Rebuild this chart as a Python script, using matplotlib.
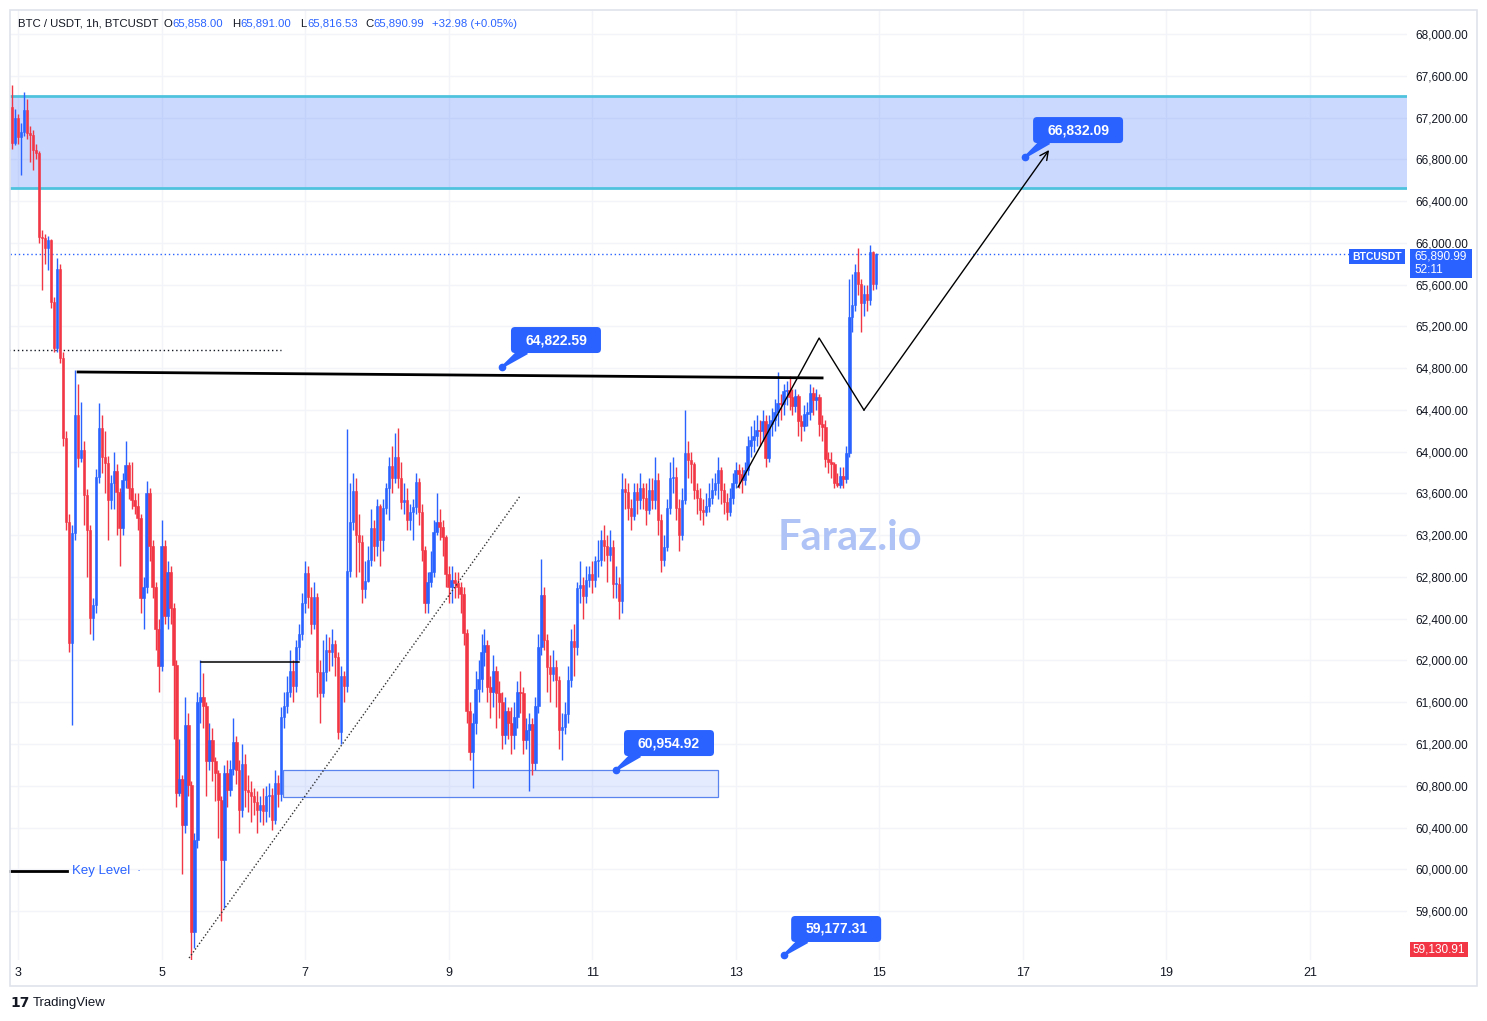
import matplotlib
matplotlib.use("Agg")
import matplotlib.pyplot as plt
import matplotlib.patches as mpatches
from matplotlib.lines import Line2D
from matplotlib.transforms import IdentityTransform
import numpy as np
import pandas as pd

plt.rcParams['font.family'] = ['Liberation Sans', 'DejaVu Sans']

# ---------------- data ----------------
first_candle = "2024-09-02 22:00"
first_open = 67300

closes = [66955, 67200, 67010, 67060, 67270, 67050, 67030, 66890, 66860, 66055,
          66045, 65950, 66025, 65430, 64990, 65750, 64900, 64130, 63330, 62170,
          63220, 64350, 63940, 64015, 63580, 63250, 62410, 62530, 63760, 64230,
          63950, 63890, 63540, 63700, 63810, 63610, 63270, 63730, 63870, 63650,
          63540, 63480, 63360, 62600, 62700, 63600, 63100, 62700, 62300, 61950,
          63100, 62430, 62850, 62500, 61960, 60730, 60860, 60420, 61380, 60810,
          59400, 60280, 61600, 61650, 61560, 61040, 61240, 61040, 60920, 60660,
          60090, 60920, 60760, 60960, 61220, 60950, 60570, 61010, 60760, 60740,
          60700, 60640, 60570, 60620, 60560, 60700, 60710, 60470, 60830, 60720,
          61460, 61560, 61700, 61900, 61760, 62130, 62250, 62550, 62840, 62610,
          62350, 62610, 61890, 61690, 61890, 62100, 62080, 62160, 62030, 61310,
          61850, 61760, 62860, 63330, 63620, 63200, 63130, 62680, 62760, 62960,
          63270, 63100, 63480, 63150, 63460, 63650, 63860, 63750, 63950, 63750,
          63520, 63540, 63350, 63420, 63470, 63710, 63420, 63060, 62550, 62750,
          62850, 63230, 63330, 63280, 63180, 62830, 62700, 62770, 62740, 62700,
          62640, 62260, 61520, 61120, 61400, 61730, 61820, 62080, 62150, 61750,
          61700, 61900, 61690, 61600, 61290, 61520, 61400, 61290, 61460, 61700,
          61690, 61240, 61330, 61390, 61020, 61560, 62130, 62630, 62200, 61940,
          61870, 61940, 61810, 61330, 61360, 61490, 61810, 62190, 62130, 62690,
          62720, 62620, 62770, 62830, 62770, 62950, 62960, 63150, 63100, 63010,
          63090, 62730, 62730, 62570, 63640, 63610, 63460, 63380, 63610, 63540,
          63650, 63560, 63440, 63630, 63540, 63730, 63350, 62960, 63090, 63460,
          63750, 63760, 63460, 63200, 63540, 63990, 63920, 63880, 63630, 63560,
          63440, 63420, 63480, 63560, 63630, 63700, 63820, 63630, 63520, 63420,
          63560, 63700, 63820, 63790, 63730, 63820, 64050, 64110, 64150, 64210,
          64200, 64290, 63940, 64260, 64300, 64380, 64470, 64460, 64580, 64590,
          64520, 64440, 64530, 64290, 64250, 64360, 64380, 64560, 64490, 64520,
          64260, 64240, 63930, 63900, 63880, 63700, 63680, 63770, 63740, 63990,
          65290, 65400, 65720, 65610, 65420, 65510, 65450, 65910, 65610, 65890.99]

highs = [67510, 67280, 67230, 67150, 67445, 67380, 67120, 67080, 66950, 66880,
         66120, 66080, 66070, 66040, 65480, 65850, 65800, 64950, 64200, 63400,
         63300, 64780, 64650, 64480, 64100, 63640, 63300, 62600, 63830, 64470,
         64350, 64200, 63960, 63780, 64000, 63880, 63650, 63800, 64100, 63900,
         63900, 63600, 63600, 63400, 62800, 63720, 63650, 63150, 62750, 62400,
         63350, 63150, 62950, 62900, 62550, 62000, 61250, 60900, 61650, 61500,
         60850, 60350, 61700, 62000, 61880, 61600, 61400, 61350, 61080, 60950,
         60700, 61000, 61050, 61050, 61450, 61280, 61050, 61200, 61100, 60900,
         60850, 60780, 60750, 60700, 60780, 60800, 60830, 60780, 60950, 60900,
         61550, 61700, 61850, 62100, 62000, 62200, 62350, 62650, 62950, 62900,
         62700, 62750, 62650, 62000, 62200, 62250, 62220, 62300, 62200, 62080,
         61950, 61900, 64220, 63700, 63800, 63750, 63400, 63200, 62950, 63100,
         63450, 63350, 63550, 63500, 63550, 63700, 63950, 64050, 64180, 64230,
         63900, 63700, 63650, 63500, 63550, 63800, 63750, 63500, 63100, 62850,
         63050, 63350, 63600, 63450, 63350, 63200, 62900, 62900, 62850, 62850,
         62750, 62700, 62300, 61600, 61500, 61900, 62000, 62250, 62300, 62200,
         61850, 62050, 61950, 61800, 61700, 61650, 61550, 61550, 61600, 61800,
         61900, 61750, 61450, 61500, 61450, 61650, 62250, 62970, 62700, 62250,
         62050, 62100, 62000, 61850, 61500, 61600, 61950, 62300, 62350, 62750,
         62950, 62800, 62900, 62900, 62950, 63000, 63150, 63250, 63300, 63200,
         63250, 63150, 62900, 62800, 63800, 63750, 63700, 63550, 63700, 63700,
         63800, 63700, 63700, 63750, 63750, 63950, 63800, 63400, 63200, 63550,
         63900, 63950, 63850, 63550, 63650, 64400, 64100, 64000, 63900, 63700,
         63650, 63550, 63600, 63700, 63750, 63800, 63950, 63850, 63700, 63600,
         63650, 63800, 63900, 63880, 63850, 63900, 64150, 64250, 64300, 64350,
         64300, 64400, 64350, 64350, 64420, 64500, 64760, 64550, 64650, 64680,
         64720, 64600, 64600, 64550, 64350, 64450, 64480, 64650, 64620, 64600,
         64550, 64350, 64300, 64000, 64000, 63900, 63800, 63850, 63850, 64050,
         65650, 65700, 65800, 65950, 65650, 65600, 65600, 65980, 65920, 65900]

lows = [66900, 66940, 66950, 66650, 67020, 66990, 66775, 66700, 66800, 66000,
        65550, 65800, 65740, 65380, 64950, 64950, 64850, 64050, 63250, 62080,
        61380, 63150, 63850, 63900, 63300, 62800, 62250, 62200, 62450, 63700,
        63800, 63600, 63150, 63450, 63450, 63200, 62900, 63200, 63650, 63550,
        63450, 63400, 63250, 62450, 62300, 62650, 62950, 62600, 62100, 61700,
        61900, 62350, 62300, 62350, 61250, 60600, 60700, 59950, 60350, 60700,
        59131, 59250, 60200, 61400, 61350, 60700, 60950, 60850, 60650, 60300,
        59500, 59630, 60600, 60700, 60900, 60820, 60350, 60500, 60600, 60550,
        60450, 60520, 60350, 60450, 60420, 60450, 60500, 60380, 60430, 60600,
        60650, 61350, 61500, 61650, 61600, 61700, 62000, 62200, 62450, 62500,
        62250, 62300, 61650, 61400, 61650, 61800, 61900, 61950, 61850, 61250,
        61200, 61600, 61700, 62800, 63250, 62800, 62850, 62550, 62600, 62750,
        62900, 62950, 63000, 62900, 63050, 63400, 63350, 63600, 63700, 63650,
        63450, 63400, 63250, 63250, 63150, 63400, 63300, 62950, 62450, 62450,
        62700, 62800, 63200, 63150, 63000, 62700, 62550, 62550, 62600, 62600,
        62450, 62150, 61400, 61050, 60780, 61300, 61600, 61700, 61950, 61600,
        61450, 61550, 61350, 61450, 61150, 61200, 61250, 61100, 61150, 61350,
        61500, 61100, 61150, 60750, 60900, 60950, 61500, 62050, 62100, 61700,
        61600, 61800, 61550, 61150, 61050, 61300, 61400, 61750, 61850, 62050,
        62550, 62400, 62550, 62700, 62650, 62700, 62800, 62900, 62950, 62750,
        62950, 62600, 62600, 62400, 62450, 63450, 63350, 63250, 63350, 63400,
        63450, 63450, 63300, 63400, 63450, 63450, 63200, 62850, 62900, 63050,
        63400, 63600, 63350, 63050, 63150, 63500, 63750, 63700, 63550, 63400,
        63350, 63300, 63380, 63420, 63500, 63580, 63550, 63500, 63400, 63350,
        63380, 63500, 63650, 63650, 63600, 63680, 63780, 63950, 64000, 64050,
        64050, 64100, 63850, 63900, 64150, 64200, 64250, 64300, 64350, 64450,
        64400, 64350, 64380, 64150, 64100, 64200, 64250, 64300, 64350, 64400,
        64150, 64100, 63850, 63800, 63750, 63650, 63660, 63650, 63650, 63700,
        63950, 65150, 65350, 65500, 65150, 65300, 65350, 65400, 65550, 65560]

day_labels = ["3", "5", "7", "9", "11", "13", "15", "17", "19", "21"]
price_ticks = list(range(59600, 68001, 400))

# drawings (time in hours from Sep 3 00:00, price in USDT)
zone_low, zone_high = 66525, 67406
box_low, box_high = 60690, 60955
key_line_t = [20.1, 268.9]
key_line_p = [64763, 64706]
mini_line_t = [61.2, 94.0]
mini_line_p = [61985, 61985]
old_dotted_t = [-3.0, 88.0]
old_dotted_p = [64973, 64973]
trend_t = [57.2, 167.9]
trend_p = [59150, 63575]
path_t = [240.8, 267.9, 282.9, 344.8]
path_p = [63661, 65088, 64398, 66889]
box_t = [88.6, 234.1]
last_price = 65890.99
low_price = 59130.91

callouts = [  # label, dot(t, p), box centre(t, p)
    ("64,822.59", (161.9, 64810), (179.9, 65069)),
    ("60,954.92", (200.0, 60951), (217.7, 61209)),
    ("66,832.09", (336.8, 66822), (354.5, 67080)),
    ("59,177.31", (256.2, 59179), (273.6, 59428)),
]

UP = '#2962FF'
DOWN = '#F23645'
BLUE = '#2962FF'
TXT = '#131722'
GRID = '#F2F4F9'

# ---------------- figure ----------------
W, H = 1487, 1021
fig = plt.figure(figsize=(W / 100, H / 100), dpi=100)
fig.patch.set_facecolor('white')
ax = fig.add_axes([10 / W, 1 - 960 / H, 1397 / W, 950 / H])
ax.set_xlim(-2.68, 464.5)
ax.set_ylim(59131, 68230)
for s in ax.spines.values():
    s.set_visible(False)

# ticks & grid
ax.set_yticks(price_ticks)
ax.set_yticklabels([f"{p:,.2f}" for p in price_ticks])
ax.yaxis.tick_right()
ax.tick_params(axis='y', length=0, pad=6, labelsize=8.5, labelcolor=TXT)
day_pos = [(int(d) - 3) * 24 for d in day_labels]
ax.set_xticks(day_pos)
ax.set_xticklabels(day_labels)
ax.tick_params(axis='x', length=0, pad=5, labelsize=9, labelcolor=TXT)
ax.grid(True, color=GRID, lw=1, zorder=0)
ax.set_axisbelow(True)

# zone
ax.axhspan(zone_low, zone_high, color=BLUE, alpha=0.24, lw=0, zorder=1)
ax.axhline(zone_high, color='#4FC3DE', lw=2, zorder=2)
ax.axhline(zone_low, color='#4FC3DE', lw=2, zorder=2)

# lower rectangle
ax.add_patch(mpatches.Rectangle((box_t[0], box_low), box_t[1] - box_t[0], box_high - box_low,
                                facecolor=BLUE, alpha=0.12, edgecolor='none', zorder=1))
ax.add_patch(mpatches.Rectangle((box_t[0], box_low), box_t[1] - box_t[0], box_high - box_low,
                                facecolor='none', edgecolor='#5B84EE', lw=0.9, zorder=2))

# candles
n = len(closes)
opens = [first_open] + closes[:-1]
times = pd.date_range(first_candle, periods=n, freq="h")
t = ((times - pd.Timestamp("2024-09-03")) / pd.Timedelta(hours=1)).to_numpy(dtype=float)
o = np.array(opens, dtype=float)
c = np.array(closes, dtype=float)
hi = np.array(highs, dtype=float)
lo = np.array(lows, dtype=float)
cols = np.where(c >= o, UP, DOWN)
ax.vlines(t, lo, hi, colors=cols, lw=1, zorder=5)
ax.bar(t, np.maximum(np.abs(c - o), 10), bottom=np.minimum(o, c), width=0.8,
       color=cols, edgecolor=cols, lw=0.4, zorder=6)

# lines
ax.plot([ax.get_xlim()[0], 448.4], [last_price, last_price], ls=(0, (1, 2)), color=BLUE, lw=1, zorder=4)
ax.plot(old_dotted_t, old_dotted_p, ls=(0, (1, 2)), color=TXT, lw=1, zorder=4)
ax.plot(key_line_t, key_line_p, color='black', lw=2, zorder=7)
ax.plot(mini_line_t, mini_line_p, color='black', lw=1.1, zorder=7)
ax.plot(trend_t, trend_p, ls=(0, (1, 1.5)), color='#333333', lw=1, zorder=7)
ax.plot(path_t[:3], path_p[:3], color='black', lw=1, zorder=7)
ax.annotate("", xy=(path_t[3], path_p[3]), xytext=(path_t[2], path_p[2]),
            arrowprops=dict(arrowstyle='->,head_length=0.6,head_width=0.3', color='black', lw=1,
                            shrinkA=0, shrinkB=0), zorder=7)

# watermark
fig.text(850 / W, 1 - 538 / H, "Faraz.io", ha='center', va='center', fontsize=30,
         fontweight='bold', color='#AFC3F6', family=['Lato', 'DejaVu Sans'], zorder=3)

# callouts
fig.canvas.draw()
for label, (dt, dp), (bt, bp) in callouts:
    bx, by = ax.transData.transform((bt, bp))
    dx, dy = ax.transData.transform((dt, dp))
    w, h = 90, 26
    fig.add_artist(mpatches.FancyBboxPatch((bx - w / 2, by - h / 2), w, h,
                                           boxstyle="round,pad=0,rounding_size=4",
                                           transform=IdentityTransform(), fc=BLUE, ec='none', zorder=20))
    cx, cy = bx - w / 2 + 14, by - h / 2 + 3
    vx, vy = cx - dx, cy - dy
    L = np.hypot(vx, vy)
    px, py = -vy / L, vx / L
    poly = [(dx + px * 1.2, dy + py * 1.2), (cx + px * 5, cy + py * 5),
            (cx - px * 5, cy - py * 5), (dx - px * 1.2, dy - py * 1.2)]
    fig.add_artist(mpatches.Polygon(poly, closed=True, transform=IdentityTransform(),
                                    fc=BLUE, ec='none', zorder=19))
    fig.add_artist(Line2D([dx], [dy], marker='o', ms=4.5, color=BLUE,
                          transform=IdentityTransform(), zorder=19))
    fig.text(bx / W, by / H, label, ha='center', va='center', color='white',
             fontweight='bold', fontsize=10, zorder=21)


def px_rect(x0, y0, w, h, color, z=15):
    fig.add_artist(mpatches.Rectangle((x0, H - y0 - h), w, h, transform=IdentityTransform(),
                                      fc=color, ec='none', zorder=z))


def px_text(x, y, s, **kw):
    fig.text(x / W, 1 - y / H, s, **kw)


# right price tags
px_rect(1349, 249, 56, 15, BLUE)
px_text(1377, 256.5, "BTCUSDT", ha='center', va='center', color='white', fontsize=7.5, fontweight='bold', zorder=16)
px_rect(1410, 249, 62, 29, BLUE)
px_text(1414, 256, f"{last_price:,.2f}", ha='left', va='center', color='white', fontsize=8.5, zorder=16)
px_text(1414, 270, "52:11", ha='left', va='center', color='white', fontsize=8.5, zorder=16)
px_rect(1410, 942, 58, 15, DOWN)
px_text(1439, 949.5, f"{low_price:,.2f}", ha='center', va='center', color='white', fontsize=8.5, zorder=16)

# header
header = [(18, "BTC / USDT, 1h, BTCUSDT", TXT), (164, "O", TXT), (172, "65,858.00", BLUE),
          (232, "H", TXT), (240, "65,891.00", BLUE), (300, "L", TXT), (307, "65,816.53", BLUE),
          (365, "C", TXT), (373, "65,890.99", BLUE), (432, "+32.98 (+0.05%)", BLUE)]
for x, s, col in header:
    px_text(x, 24, s, ha='left', va='center', color=col, fontsize=8.2)

# key level legend
fig.add_artist(Line2D([10, 67], [H - 871, H - 871], color='black', lw=2, transform=IdentityTransform()))
px_text(72, 871, "Key Level", ha='left', va='center', color=BLUE, fontsize=9.5)
px_text(136, 871, "·", ha='left', va='center', color=BLUE, fontsize=9)

# TradingView footer
px_text(10, 1003, "17", ha='left', va='center', color=TXT, fontsize=10, fontweight='bold',
        family=['DejaVu Sans'])
px_text(33, 1003, "TradingView", ha='left', va='center', color=TXT, fontsize=9.5)

# outer frame
fig.add_artist(mpatches.Rectangle((10, H - 986), 1467, 976, transform=IdentityTransform(),
                                  fc='none', ec='#E0E3EB', lw=1.2, zorder=30))

fig.savefig("out.png", dpi=100, facecolor='white')
